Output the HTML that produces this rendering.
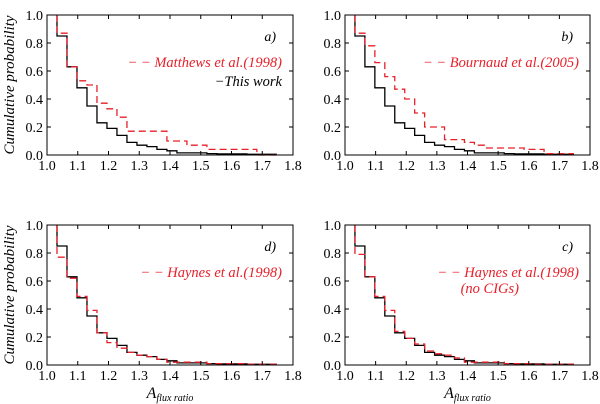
<!DOCTYPE html>
<html><head><meta charset="utf-8">
<style>
html,body{margin:0;padding:0;background:#fff;}
svg{display:block;}
svg text{font-family:"Liberation Serif","DejaVu Serif",serif;}
</style></head>
<body>
<svg id="chart" width="600" height="404" viewBox="0 0 600 404" font-family="Liberation Serif, serif"></svg>
<script>
const binStart = 1.0;
const binWidth = 0.0325;
const xTicks = [1.0,1.1,1.2,1.3,1.4,1.5,1.6,1.7,1.8];
const yTicks = [0.0,0.2,0.4,0.6,0.8,1.0];
const thisWork = [1.0,0.85,0.63,0.48,0.35,0.23,0.19,0.14,0.09,0.07,0.06,0.04,0.03,0.015,0.015,0.015,0.01,0.008,0.008,0.008,0.005,0.005,0.005];
const matthews = [1.0,0.87,0.63,0.53,0.50,0.37,0.33,0.27,0.17,0.17,0.17,0.17,0.10,0.10,0.07,0.07,0.04,0.04,0.04,0.04,0.04,0.0,0.0];
const bournaud = [1.0,0.87,0.78,0.66,0.56,0.47,0.40,0.30,0.20,0.20,0.11,0.11,0.09,0.07,0.05,0.05,0.05,0.05,0.04,0.04,0.01,0.01,0.01];
const haynes = [1.0,0.77,0.62,0.49,0.39,0.23,0.16,0.12,0.09,0.07,0.06,0.04,0.02,0.02,0.02,0.02,0.01,0.01,0.01,0.01,0.005,0.005,0.005];
const haynesNoCig = [1.0,0.79,0.63,0.49,0.39,0.24,0.19,0.15,0.10,0.08,0.07,0.05,0.02,0.02,0.02,0.02,0.01,0.01,0.01,0.005,0.005,0.005,0.005];

const panels = [
  {id:'a',x0:47,x1:293,y0:15,y1:155,red:matthews,label:'a)',legend:['Matthews et al.(1998)'],black:true,ylab:true,xlab:false},
  {id:'b',x0:345,x1:590,y0:15,y1:155,red:bournaud,label:'b)',legend:['Bournaud et al.(2005)'],black:false,ylab:false,xlab:false},
  {id:'d',x0:47,x1:293,y0:225,y1:365,red:haynes,label:'d)',legend:['Haynes et al.(1998)'],black:false,ylab:true,xlab:true},
  {id:'c',x0:345,x1:590,y0:225,y1:365,red:haynesNoCig,label:'c)',legend:['Haynes et al.(1998)','(no CIGs)'],black:false,ylab:false,xlab:true}
];
const NS='http://www.w3.org/2000/svg';
const svg=document.getElementById('chart');
const FF='Liberation Serif, DejaVu Serif, serif';
function mk(tag,attrs,parent){const e=document.createElementNS(NS,tag);for(const k in attrs)e.setAttribute(k,attrs[k]);if(tag==='text')e.setAttribute('font-family',FF);(parent||svg).appendChild(e);return e;}

panels.forEach(p=>{
  const g=mk('g',{});
  
  
  const sx=v=>p.x0+(v-1.0)/0.8*(p.x1-p.x0);
  const sy=v=>p.y1-v*(p.y1-p.y0);
  function stepPath(vals){
    let d='M'+sx(binStart+binWidth)+','+sy(vals[0]);
    for(let k=1;k<vals.length;k++){
      const xa=sx(binStart+binWidth*k), xb=sx(binStart+binWidth*(k+1));
      d+=' L'+xa+','+sy(vals[k])+' L'+xb+','+sy(vals[k]);
    }
    return d;
  }
  const bl=mk('path',{d:stepPath(thisWork),fill:'none',stroke:'#000','stroke-width':1.3},g);
  
  
  const rl=mk('path',{d:stepPath(p.red),fill:'none',stroke:'#e8202a','stroke-width':1.3,'stroke-dasharray':'7,4'},g);
  
  
  const fr=mk('rect',{x:p.x0,y:p.y0,width:p.x1-p.x0,height:p.y1-p.y0,fill:'none',stroke:'#000','stroke-width':1},g);
  
  
  xTicks.forEach(t=>{
    const x=sx(t);
    mk('line',{x1:x,x2:x,y1:p.y1,y2:p.y1-4,stroke:'#000'},g);
    mk('line',{x1:x,x2:x,y1:p.y0,y2:p.y0+4,stroke:'#000'},g);
    const tx=mk('text',{x:x,y:p.y1+15,'font-size':14,'text-anchor':'middle'},g);
    tx.textContent=t.toFixed(1);
    
    
  });
  yTicks.forEach(t=>{
    const y=sy(t);
    mk('line',{x1:p.x0,x2:p.x0+4,y1:y,y2:y,stroke:'#000'},g);
    mk('line',{x1:p.x1,x2:p.x1-4,y1:y,y2:y,stroke:'#000'},g);
    const tx=mk('text',{x:p.x0-4,y:y+5,'font-size':14,'text-anchor':'end'},g);
    tx.textContent=t.toFixed(1);
    
    
  });
  const lb=mk('text',{x:p.x1-17,y:p.y0+26,'font-size':14,'font-style':'italic','text-anchor':'end'},g);
  lb.textContent=p.label;
  
  
  const ly=p.y0+52;
  const lx=p.x1-11;
  const lt=mk('text',{x:lx,y:ly,'font-size':14.5,'font-style':'italic','text-anchor':'end',fill:'#e8202a'},g);
  lt.textContent='\u2212 \u2212 '+p.legend[0];
  
  
  if(p.legend[1]){
    const l2=mk('text',{x:lx-60,y:ly+16,'font-size':14.5,'font-style':'italic','text-anchor':'end',fill:'#e8202a'},g);
    l2.textContent=p.legend[1];
    
    
  }
  if(p.black){
    const l3=mk('text',{x:lx,y:ly+19,'font-size':14.5,'font-style':'italic','text-anchor':'end',fill:'#000'},g);
    l3.textContent='\u2212This work';
    
    
  }
  if(p.ylab){
    const yl=mk('text',{x:0,y:0,'font-size':15,'font-style':'italic','text-anchor':'middle',transform:'translate(14,'+((p.y0+p.y1)/2)+') rotate(-90)'},g);
    yl.textContent='Cumulative probability';
    
    
  }
  if(p.xlab){
    const xl=mk('text',{x:(p.x0+p.x1)/2,y:p.y1+33,'font-size':16,'font-style':'italic','text-anchor':'middle'},g);
    xl.innerHTML='A<tspan font-size="10" dy="3">flux ratio</tspan>';
    
    
  }
});
</script>
</body></html>
